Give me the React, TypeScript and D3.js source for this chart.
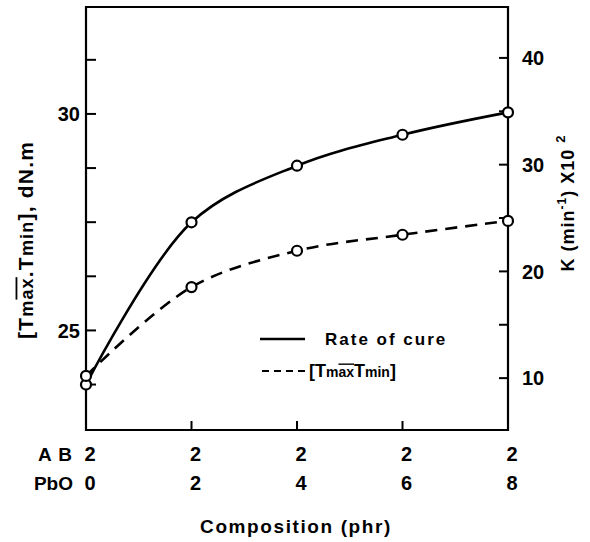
import React from "react";
import * as d3 from "d3";

// composition rows under the x axis
const pbo = [0, 2, 4, 6, 8];
const ab = [2, 2, 2, 2, 2];

// rate of cure, K (min^-1) x 10^2  -> right axis
const rateOfCure = [9.4, 24.6, 29.9, 32.8, 34.9];
// torque difference [Tmax - Tmin], dN.m -> left axis
const torque = [23.95, 26.0, 26.84, 27.21, 27.53];

const leftTicks = [23.75, 25, 26.25, 27.5, 28.75, 30, 31.25];
const leftLabels = [25, 30];
const rightTicks = [10, 15, 20, 25, 30, 35, 40];
const rightLabels = [10, 20, 30, 40];

const W = 590;
const H = 542;
const LEFT = 86;
const RIGHT = 508;
const TOP = 7;
const BOTTOM = 430;
const FONT = "'Liberation Sans', Arial, sans-serif";

export default function App() {
  const x = d3.scaleLinear().domain([0, 8]).range([LEFT, RIGHT]);
  const yL = d3.scaleLinear().domain([22.7, 32.47]).range([BOTTOM, TOP]);
  const yR = d3.scaleLinear().domain([5.14, 44.77]).range([BOTTOM, TOP]);

  const line = d3.line<[number, number]>().curve(d3.curveCatmullRom.alpha(0.5));
  const ratePts: [number, number][] = pbo.map((p, i) => [x(p), yR(rateOfCure[i])]);
  const torquePts: [number, number][] = pbo.map((p, i) => [x(p), yL(torque[i])]);

  return (
    <svg
      width={W}
      height={H}
      style={{ position: "absolute", left: 0, top: 0, background: "#fff" }}
      fontFamily={FONT}
      fontWeight="bold"
    >
      {/* frame */}
      <path
        d={`M${LEFT},${TOP}H${RIGHT}V${BOTTOM}H${LEFT}Z`}
        fill="none"
        stroke="#000"
        strokeWidth={2.2}
      />

      {/* left ticks */}
      {leftTicks.map((t) => (
        <line key={"l" + t} x1={LEFT} x2={LEFT + 10} y1={yL(t)} y2={yL(t)} stroke="#000" strokeWidth={2} />
      ))}
      {leftLabels.map((t) => (
        <text key={"ll" + t} x={80} y={yL(t)} dy="0.36em" textAnchor="end" fontSize={20}>
          {t}
        </text>
      ))}

      {/* right ticks */}
      {rightTicks.map((t) => (
        <line key={"r" + t} x1={RIGHT - 9} x2={RIGHT} y1={yR(t)} y2={yR(t)} stroke="#000" strokeWidth={2} />
      ))}
      {rightLabels.map((t) => (
        <text key={"rl" + t} x={522} y={yR(t)} dy="0.36em" textAnchor="start" fontSize={20}>
          {t}
        </text>
      ))}

      {/* bottom ticks */}
      {pbo.slice(1, -1).map((p) => (
        <line key={"b" + p} x1={x(p)} x2={x(p)} y1={BOTTOM} y2={BOTTOM - 9} stroke="#000" strokeWidth={2} />
      ))}

      {/* composition rows */}
      <text x={73} y={454} dy="0.36em" textAnchor="end" fontSize={19} letterSpacing={1}>
        A B
      </text>
      <text x={73} y={483} dy="0.36em" textAnchor="end" fontSize={19}>
        PbO
      </text>
      {pbo.map((p, i) => (
        <g key={"c" + p}>
          <text x={x(p) + 4} y={454} dy="0.36em" textAnchor="middle" fontSize={20}>
            {ab[i]}
          </text>
          <text x={x(p) + 4} y={483} dy="0.36em" textAnchor="middle" fontSize={20}>
            {p}
          </text>
        </g>
      ))}
      <text x={296} y={526} dy="0.36em" textAnchor="middle" fontSize={19} letterSpacing={1.6}>
        Composition (phr)
      </text>

      {/* left axis title */}
      <text
        transform="translate(25,240) rotate(-90)"
        textAnchor="middle"
        dy="0.36em"
        fontSize={21}
        letterSpacing={1.2}
      >
        [T<tspan fontSize={18}>m</tspan>
        <tspan fontSize={18} textDecoration="overline">ax</tspan>.T<tspan fontSize={18}>min</tspan>], dN.m
      </text>

      {/* right axis title */}
      <text
        transform="translate(568,203) rotate(-90)"
        textAnchor="middle"
        dy="0.36em"
        fontSize={18}
        letterSpacing={1}
      >
        K (min<tspan fontSize={12} dy={-8}>-1</tspan>
        <tspan dy={8}>) X10 </tspan>
        <tspan fontSize={13} dy={-9}>2</tspan>
      </text>

      {/* curves */}
      <path d={line(ratePts) ?? ""} fill="none" stroke="#000" strokeWidth={2.6} />
      <path d={line(torquePts) ?? ""} fill="none" stroke="#000" strokeWidth={2.6} strokeDasharray="12,8" />
      {ratePts.concat(torquePts).map((p, i) => (
        <circle key={"pt" + i} cx={p[0]} cy={p[1]} r={5} fill="#fff" stroke="#000" strokeWidth={2.2} />
      ))}

      {/* legend */}
      <line x1={260} x2={305} y1={339} y2={339} stroke="#000" strokeWidth={2.6} />
      <text x={325} y={339} dy="0.36em" fontSize={17} letterSpacing={2}>
        Rate of cure
      </text>
      <line x1={262} x2={305} y1={371} y2={371} stroke="#000" strokeWidth={2} strokeDasharray="7,5" />
      <text x={309} y={371} dy="0.36em" fontSize={18}>
        [T<tspan fontSize={14}>m</tspan>
        <tspan fontSize={14} textDecoration="overline">ax</tspan>T<tspan fontSize={14}>min</tspan>]
      </text>
    </svg>
  );
}
